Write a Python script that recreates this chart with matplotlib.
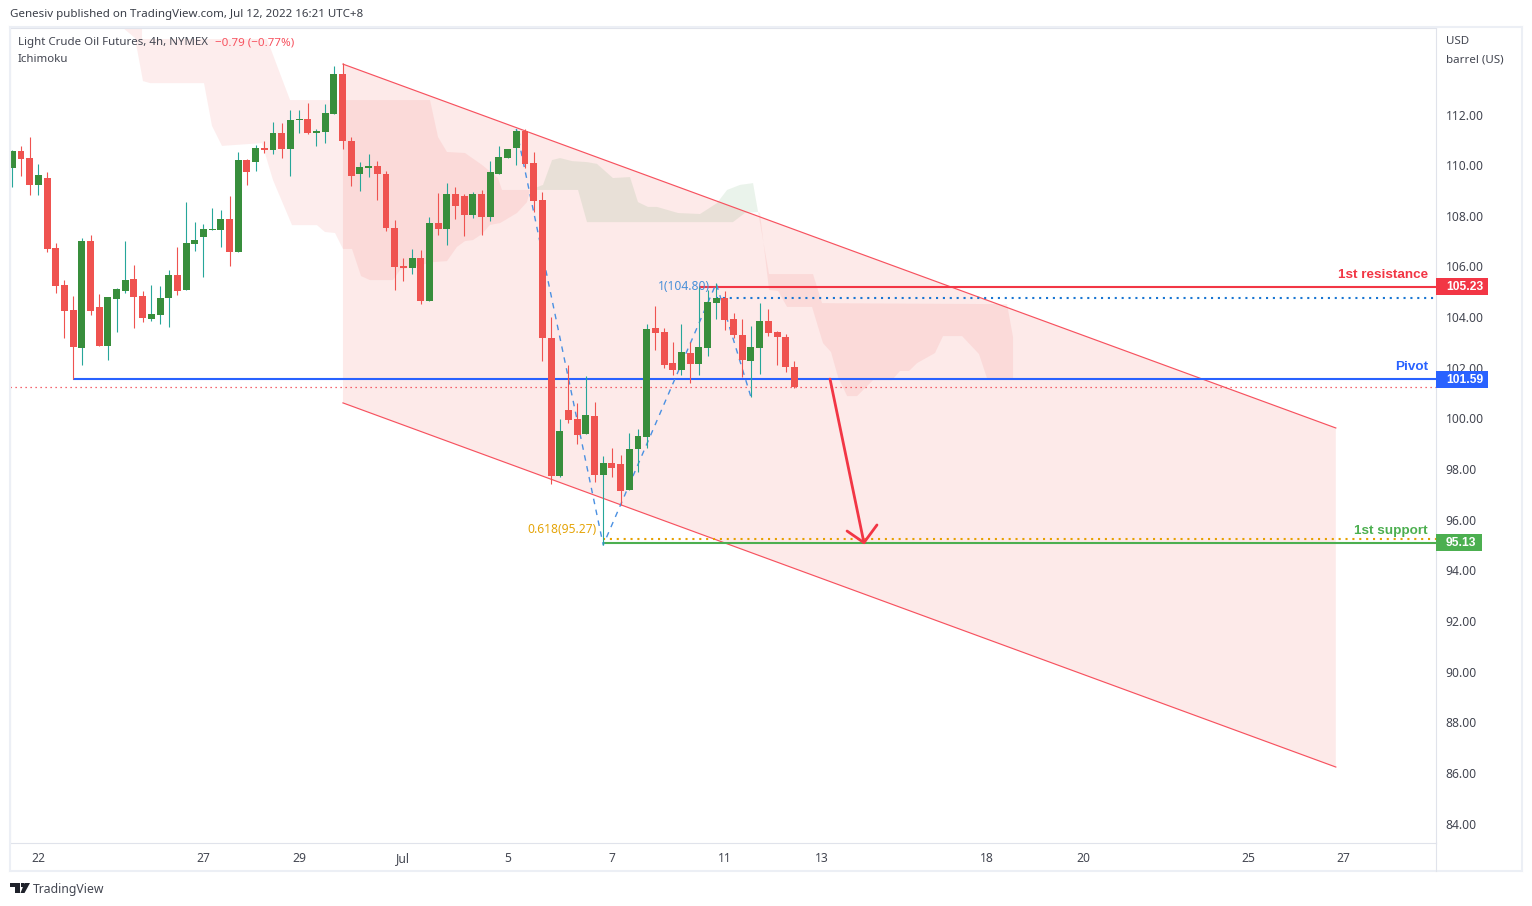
import matplotlib
matplotlib.use("Agg")
import matplotlib.pyplot as plt
from matplotlib.lines import Line2D
from matplotlib.patches import Polygon, Rectangle
from matplotlib.transforms import ScaledTranslation, blended_transform_factory

plt.rcParams['font.family'] = ['Noto Sans', 'DejaVu Sans']

# 4h bars, numbered from the first one on the chart
opens = [109.94, 110.60, 110.32, 109.26, 109.53, 106.77, 105.31, 104.32, 102.82, 107.04,
         104.44, 102.90, 104.75, 105.07, 105.54, 104.87, 103.96, 104.12, 104.79, 105.70,
         105.11, 106.92, 107.20, 107.48, 107.48, 107.91, 106.61, 110.24, 110.16, 110.72,
         110.64, 111.31, 110.68, 111.82, 111.86, 111.31, 111.35, 112.06, 113.64, 110.99,
         109.69, 109.93, 110.01, 109.69, 107.56, 106.06, 105.98, 106.37, 104.67, 107.75,
         107.52, 108.90, 108.82, 108.07, 108.90, 107.99, 109.69, 110.32, 110.72, 111.39,
         110.12, 108.66, 103.21, 97.76, 100.37, 100.01, 99.42, 100.13, 97.80, 98.27,
         98.24, 97.21, 98.83, 99.30, 103.61, 103.45, 102.23, 101.95, 102.62, 102.19,
         102.82, 104.60, 104.79, 103.96, 103.33, 102.30, 102.82, 103.88, 103.45, 103.25,
         102.07]
highs = [110.64, 110.80, 111.15, 110.09, 109.77, 106.96, 105.50, 104.87, 107.16, 107.28,
         104.95, 104.83, 105.19, 107.04, 106.10, 105.07, 105.31, 105.27, 105.90, 106.81,
         108.58, 107.79, 107.72, 108.35, 108.27, 108.82, 110.56, 110.28, 110.84, 110.99,
         111.74, 111.70, 112.22, 112.22, 112.49, 111.47, 112.45, 113.95, 114.06, 111.15,
         110.16, 110.48, 110.20, 109.81, 107.87, 106.37, 106.73, 106.69, 107.99, 108.94,
         109.34, 109.18, 108.90, 108.98, 109.06, 110.20, 110.80, 110.68, 111.47, 111.47,
         110.56, 108.98, 104.04, 100.01, 102.15, 100.65, 101.71, 100.68, 98.55, 98.87,
         98.59, 99.46, 99.62, 103.77, 104.48, 103.61, 103.05, 103.77, 103.05, 105.24,
         105.11, 105.37, 105.07, 104.20, 103.96, 103.69, 104.60, 104.36, 103.49, 103.37,
         102.30]
lows = [109.19, 109.63, 108.86, 108.86, 106.61, 104.99, 103.21, 101.59, 102.14, 104.12,
        102.90, 102.34, 103.45, 104.99, 103.61, 103.84, 103.88, 103.77, 103.65, 104.91,
        105.11, 106.65, 105.62, 107.48, 106.81, 106.06, 106.61, 109.26, 109.81, 110.52,
        110.48, 110.32, 109.61, 111.31, 111.27, 110.80, 110.91, 112.06, 110.68, 109.22,
        109.02, 109.57, 108.66, 107.44, 105.11, 105.46, 105.74, 104.55, 104.67, 107.28,
        106.89, 107.91, 107.24, 107.95, 107.28, 107.83, 109.69, 110.32, 110.05, 109.93,
        108.19, 102.30, 97.45, 97.72, 99.85, 99.03, 99.42, 97.53, 95.04, 97.72,
        96.62, 97.21, 97.92, 98.87, 102.74, 102.03, 101.75, 101.75, 101.44, 101.75,
        102.50, 103.96, 103.53, 103.20, 101.67, 100.88, 101.79, 103.29, 102.15, 101.87,
        101.24]
closes = [110.60, 110.28, 109.26, 109.65, 106.73, 105.27, 104.28, 102.86, 107.04, 104.28,
          102.90, 104.83, 105.15, 105.50, 104.83, 104.00, 104.16, 104.79, 105.70, 105.07,
          106.96, 107.08, 107.52, 107.52, 107.91, 106.61, 110.24, 109.77, 110.72, 110.64,
          111.31, 110.68, 111.82, 111.86, 111.31, 111.39, 112.10, 113.64, 110.99, 109.61,
          109.97, 110.01, 109.69, 107.56, 106.02, 105.98, 106.37, 104.67, 107.75, 107.52,
          108.90, 108.43, 108.07, 108.90, 107.99, 109.77, 110.36, 110.68, 111.39, 110.09,
          108.62, 103.22, 97.76, 99.54, 99.97, 99.38, 100.17, 97.80, 98.27, 98.08,
          97.17, 98.83, 99.34, 103.57, 103.41, 102.15, 101.95, 102.66, 102.19, 102.86,
          104.63, 104.79, 103.92, 103.33, 102.34, 102.86, 103.88, 103.41, 103.25, 102.07,
          101.28]

# Ichimoku cloud outlines (bar number, price)
cloud_red1_x = [14.93, 14.93, 29.31, 31.96, 48.07, 48.99, 50.02, 52.09, 54.05, 55.89, 56.35, 59.58,
                59.23, 58.08, 56.12, 54.97, 54.05, 53.01, 52.09, 51.17, 50.02, 48.41, 44.62, 43.81,
                41.16, 40.13, 39.09, 38.05, 37.14, 35.98, 35.06, 32.19, 30.00, 28.73, 24.13, 22.98,
                22.06, 15.85, 15.04, 14.12, 12.74]
cloud_red1_y = [115.46, 115.02, 115.02, 112.61, 112.61, 111.15, 110.56, 110.52, 110.05, 109.53, 109.06, 109.06,
                108.58, 108.15, 107.75, 107.68, 107.32, 107.08, 107.04, 106.81, 106.25, 106.21, 105.90, 105.50,
                105.50, 105.66, 106.73, 106.73, 107.36, 107.40, 107.67, 107.67, 109.45, 110.91, 110.80, 111.59,
                113.28, 113.28, 113.36, 115.06, 115.46]
cloud_green_x = [59.58, 61.07, 62.11, 63.03, 64.41, 66.13, 67.28, 69.12, 71.08, 72.00, 73.15, 74.19,
                 76.61, 79.14, 81.09, 82.25, 83.75, 85.24, 85.82, 84.31, 82.93, 66.13, 65.10]
cloud_green_y = [109.06, 109.26, 110.24, 110.32, 110.20, 110.16, 110.09, 109.53, 109.57, 108.58, 108.39, 108.39,
                 108.15, 108.11, 108.54, 109.06, 109.26, 109.33, 108.19, 108.15, 107.79, 107.79, 109.06]
cloud_red2_x = [85.82, 87.08, 92.14, 93.18, 114.47, 115.16, 115.16, 112.16, 111.24, 109.29, 107.10, 106.18,
                104.11, 103.19, 102.15, 101.23, 99.05, 97.21, 96.06, 95.02, 94.21, 93.29, 92.03, 89.16,
                88.12, 87.08, 86.04]
cloud_red2_y = [108.19, 105.74, 105.74, 104.59, 104.55, 103.25, 101.59, 101.63, 102.58, 103.29, 103.29, 102.62,
                102.22, 101.91, 101.91, 101.55, 101.55, 100.92, 100.92, 101.67, 102.66, 103.01, 104.44, 104.44,
                105.07, 105.11, 108.15]

# parallel channel
channel_x = [38.05, 152.3]
channel_upper = [114.03, 99.66]
channel_lower = [100.65, 86.27]

# levels
pivot = 101.59
resistance = 105.23
support = 95.13
last_price = 101.28
fib_1 = 104.80
fib_618 = 95.27

# dashed zigzag of the fib drawing
zigzag_x = [58, 68, 81, 85]
zigzag_y = [111.47, 95.04, 105.37, 100.88]

# forecast arrow
arrow_x = [94.1, 98.0]
arrow_y = [101.59, 95.13]
barb_x = [96.06, 98.0, 99.5]
barb_y = [95.59, 95.13, 95.83]

price_ticks = list(range(84, 114, 2))
time_ticks = [3, 22, 33, 45, 57, 69, 82, 93.2, 112.2, 123.2, 142.2, 153.2]
time_labels = ["22", "27", "29", "Jul", "5", "7", "11", "13", "18", "20", "25", "27"]

W, H = 1532, 906
UP = '#388e3c'
DOWN = '#ef5350'
WICK_UP = '#26a69a'
RED = '#f23645'
BLUE = '#2962ff'
GREEN = '#4caf50'
TXT = '#434651'
BOLD_FONT = ['Liberation Sans', 'DejaVu Sans']

fig = plt.figure(figsize=(W / 100, H / 100), dpi=100)
ax = fig.add_axes([10 / W, 1 - 843 / H, 1426 / W, 815 / H])
ax.set_xlim(-0.265, 163.83)
ax.set_ylim(83.27, 115.456)

# channel and cloud sit at the back
ax.fill(channel_x + channel_x[::-1], channel_upper + channel_lower[::-1], color=DOWN, alpha=0.12, lw=0, zorder=1)
ax.plot(channel_x, channel_upper, color='#f7525f', lw=0.85, zorder=2)
ax.plot(channel_x, channel_lower, color='#f7525f', lw=0.85, zorder=2)
ax.fill(cloud_red1_x, cloud_red1_y, color=DOWN, alpha=0.1, lw=0, zorder=1.2)
ax.fill(cloud_green_x, cloud_green_y, color=UP, alpha=0.1, lw=0, zorder=1.2)
ax.fill(cloud_red2_x, cloud_red2_y, color=DOWN, alpha=0.1, lw=0, zorder=1.2)

# level lines
ax.plot([-0.265, 200], [last_price, last_price], color=RED, lw=0.9, ls=(0, (1, 3)), zorder=3)
ax.plot([7, 200], [pivot, pivot], color=BLUE, lw=1.5, zorder=3, solid_capstyle='butt')
ax.plot([79, 200], [resistance, resistance], color=RED, lw=1.5, zorder=3, solid_capstyle='butt')
ax.plot([68, 200], [support, support], color=GREEN, lw=1.5, zorder=3, solid_capstyle='butt')
ax.plot([81, 200], [fib_1, fib_1], color='#1976d2', lw=1.5, ls=(0, (1, 2.3)), zorder=3)
ax.plot([68, 200], [fib_618, fib_618], color='#e6a100', lw=1.5, ls=(0, (1, 2.3)), zorder=3)
ax.plot(zigzag_x, zigzag_y, color='#4a90e2', lw=1, ls=(0, (4, 4)), zorder=3)

# candles
for i in range(len(opens)):
    up = closes[i] >= opens[i]
    ax.vlines(i, lows[i], highs[i], color=WICK_UP if up else DOWN, lw=0.8, zorder=4)
    bottom = min(opens[i], closes[i])
    ax.bar(i, abs(closes[i] - opens[i]), bottom=bottom, width=0.8, color=UP if up else DOWN, lw=0, zorder=5)

ax.plot(arrow_x, arrow_y, color=RED, lw=2, solid_capstyle='round', zorder=6)
ax.plot(barb_x, barb_y, color=RED, lw=2, solid_capstyle='round', zorder=6)

# axes
ax.yaxis.tick_right()
ax.set_yticks(price_ticks)
ax.set_yticklabels(["%.2f" % p for p in price_ticks])
ax.set_xticks(time_ticks)
ax.set_xticklabels(time_labels)
ax.tick_params(axis='y', length=0, pad=7, labelsize=8.7, labelcolor=TXT)
ax.tick_params(axis='x', length=0, pad=6.5, labelsize=8.7, labelcolor=TXT)
# price labels sit one pixel too low otherwise
nudge = ScaledTranslation(0, 1 / 100, fig.dpi_scale_trans)
for label in ax.get_yticklabels():
    label.set_transform(label.get_transform() + nudge)
for side in ax.spines:
    ax.spines[side].set_color('#e0e3eb')
    ax.spines[side].set_linewidth(0.8)

# coloured price tags on the scale
trans = blended_transform_factory(ax.transAxes, ax.transData)
for price, color, text, width in [(resistance, RED, "105.23", 52), (pivot, BLUE, "101.59", 52), (support, GREEN, "95.13", 46)]:
    ax.add_patch(Rectangle((1, price - 0.336), width / 1426, 0.672, transform=trans, color=color, lw=0,
                           clip_on=False, zorder=10))
    ax.text(1 + 10 / 1426, price - 0.02, text, transform=trans, color='white', fontsize=8.7, family=BOLD_FONT,
            fontweight='bold', va='center', ha='left', clip_on=False, zorder=11)

# drawing labels
ax.text(162.9, resistance + 0.49, "1st resistance", color=RED, fontsize=9.7, family=BOLD_FONT, fontweight='bold',
        ha='right', va='center', zorder=7)
ax.text(162.9, pivot + 0.47, "Pivot", color=BLUE, fontsize=9.7, family=BOLD_FONT, fontweight='bold',
        ha='right', va='center', zorder=7)
ax.text(162.9, support + 0.47, "1st support", color=GREEN, fontsize=9.7, family=BOLD_FONT, fontweight='bold',
        ha='right', va='center', zorder=7)
ax.text(74.3, 105.23, "1(104.80)", color='#4a90d9', fontsize=8.7, va='center', ha='left', zorder=3.5)
ax.text(59.3, 95.65, "0.618(95.27)", color='#e5a50a', fontsize=8.7, va='center', ha='left', zorder=3.5)

# text outside the price area, placed in figure pixels
def put_text(x, y, s, **kw):
    fig.text(x / W, 1 - y / H, s, va='center', ha='left', **kw)

put_text(10, 15, "Genesiv published on TradingView.com, Jul 12, 2022 16:21 UTC+8", fontsize=8.3, color='#3a3e48')
put_text(18, 43, "Light Crude Oil Futures, 4h, NYMEX", fontsize=8.25, color=TXT)
put_text(215, 43, "\u22120.79 (\u22120.77%)", fontsize=8.3, color='#f7525f')
put_text(18, 60, "Ichimoku", fontsize=8.25, color=TXT)
put_text(1446, 41, "USD", fontsize=8.3, color=TXT)
put_text(1446, 60, "barrel (US)", fontsize=8.3, color=TXT)
put_text(33, 889, "TradingView", fontsize=8.8, color=TXT)

# outer frame
for xs, ys in [((9.5, 9.5), (27, 871)), ((9.5, 1522), (871, 871)), ((1522, 1522), (27, 871)),
               ((9.5, 1522), (27, 27))]:
    fig.add_artist(Line2D([x / W for x in xs], [1 - y / H for y in ys], color='#eceff5', lw=1.5))
fig.add_artist(Line2D([1436 / W, 1436 / W], [1 - 843 / H, 1 - 871 / H], color='#e0e3eb', lw=0.8))

# TradingView logo
logo = fig.add_axes([10 / W, 1 - 893 / H, 20 / W, 10 / H])
logo.set_xlim(0, 20)
logo.set_ylim(0, 10)
logo.axis('off')
logo.add_patch(Polygon([(0, 10), (10, 10), (10, 0), (4.5, 0), (4.5, 6.5), (0, 6.5)], color='#1f222b', lw=0))
logo.add_patch(Rectangle((10.5, 6.5), 3.5, 3.5, color='#1f222b', lw=0))
logo.add_patch(Polygon([(14.5, 10), (20, 10), (14.5, 0), (10.5, 0)], color='#1f222b', lw=0))

plt.savefig("out.png", dpi=100)
plt.close()
